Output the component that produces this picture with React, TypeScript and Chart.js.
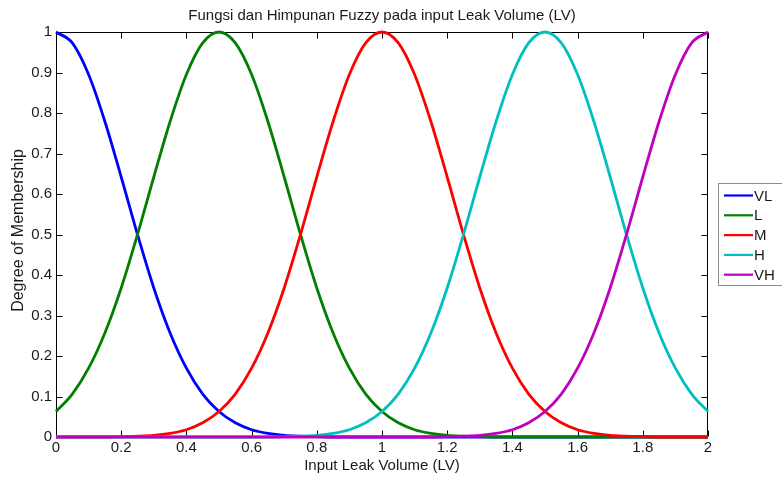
import React, { useEffect, useRef } from "react";
import { Chart, registerables } from "chart.js";

Chart.register(...registerables);

// Input universe sampled every 0.05 on [0, 2]
const xValues = [
  0, 0.05, 0.1, 0.15, 0.2, 0.25, 0.3, 0.35, 0.4, 0.45,
  0.5, 0.55, 0.6, 0.65, 0.7, 0.75, 0.8, 0.85, 0.9, 0.95,
  1, 1.05, 1.1, 1.15, 1.2, 1.25, 1.3, 1.35, 1.4, 1.45,
  1.5, 1.55, 1.6, 1.65, 1.7, 1.75, 1.8, 1.85, 1.9, 1.95, 2,
];

const vlValues = [
  1, 0.973, 0.895, 0.779, 0.642, 0.5, 0.368, 0.257, 0.17, 0.106,
  0.063, 0.035, 0.018, 0.009, 0.004, 0.002, 0.001, 0, 0, 0,
  0, 0, 0, 0, 0, 0, 0, 0, 0, 0,
  0, 0, 0, 0, 0, 0, 0, 0, 0, 0, 0,
];

const lValues = [
  0.063, 0.106, 0.17, 0.257, 0.368, 0.5, 0.642, 0.779, 0.895, 0.973,
  1, 0.973, 0.895, 0.779, 0.642, 0.5, 0.368, 0.257, 0.17, 0.106,
  0.063, 0.035, 0.018, 0.009, 0.004, 0.002, 0.001, 0, 0, 0,
  0, 0, 0, 0, 0, 0, 0, 0, 0, 0, 0,
];

const mValues = [
  0, 0, 0, 0, 0.001, 0.002, 0.004, 0.009, 0.018, 0.035,
  0.063, 0.106, 0.17, 0.257, 0.368, 0.5, 0.642, 0.779, 0.895, 0.973,
  1, 0.973, 0.895, 0.779, 0.642, 0.5, 0.368, 0.257, 0.17, 0.106,
  0.063, 0.035, 0.018, 0.009, 0.004, 0.002, 0.001, 0, 0, 0, 0,
];

const hValues = [
  0, 0, 0, 0, 0, 0, 0, 0, 0, 0,
  0, 0, 0, 0, 0.001, 0.002, 0.004, 0.009, 0.018, 0.035,
  0.063, 0.106, 0.17, 0.257, 0.368, 0.5, 0.642, 0.779, 0.895, 0.973,
  1, 0.973, 0.895, 0.779, 0.642, 0.5, 0.368, 0.257, 0.17, 0.106, 0.063,
];

const vhValues = [
  0, 0, 0, 0, 0, 0, 0, 0, 0, 0,
  0, 0, 0, 0, 0, 0, 0, 0, 0, 0,
  0, 0, 0, 0, 0.001, 0.002, 0.004, 0.009, 0.018, 0.035,
  0.063, 0.106, 0.17, 0.257, 0.368, 0.5, 0.642, 0.779, 0.895, 0.973, 1,
];

const seriesNames = ["VL", "L", "M", "H", "VH"];
const seriesColors = ["#0000ff", "#007f00", "#ff0000", "#00bfbf", "#bf00bf"];
const seriesValues = [vlValues, lValues, mValues, hValues, vhValues];

const xTicks = [0, 0.2, 0.4, 0.6, 0.8, 1, 1.2, 1.4, 1.6, 1.8, 2];
const yTicks = [0, 0.1, 0.2, 0.3, 0.4, 0.5, 0.6, 0.7, 0.8, 0.9, 1];

const chartTitle = "Fungsi dan Himpunan Fuzzy pada input Leak Volume (LV)";
const xTitle = "Input Leak Volume (LV)";
const yTitle = "Degree of Membership";

const FONT = "'Liberation Sans', Arial, sans-serif";
const TEXT = "#1a1a1a";

const fmt = (v: number) => String(Number(v.toFixed(1)));

// Box around the axes with inward tick marks, drawn under the curves
const framePlugin = {
  id: "frame",
  beforeDatasetsDraw(chart: any) {
    const { ctx, chartArea: a, scales } = chart;
    const l = Math.round(a.left) + 0.5;
    const r = Math.round(a.right) - 0.5;
    const t = Math.round(a.top) + 0.5;
    const b = Math.round(a.bottom) - 0.5;
    ctx.save();
    ctx.strokeStyle = "#000";
    ctx.lineWidth = 1;
    ctx.strokeRect(l, t, r - l, b - t);
    const tl = 6;
    ctx.beginPath();
    for (const v of xTicks) {
      const px = Math.round(scales.x.getPixelForValue(v)) + 0.5;
      ctx.moveTo(px, b);
      ctx.lineTo(px, b - tl);
      ctx.moveTo(px, t);
      ctx.lineTo(px, t + tl);
    }
    for (const v of yTicks) {
      const py = Math.round(scales.y.getPixelForValue(v)) + 0.5;
      ctx.moveTo(l, py);
      ctx.lineTo(l + tl, py);
      ctx.moveTo(r, py);
      ctx.lineTo(r - tl, py);
    }
    ctx.stroke();
    ctx.restore();
  },
  afterDraw(chart: any) {
    const { ctx, chartArea: a } = chart;
    const cx = (a.left + a.right) / 2;
    const cy = (a.top + a.bottom) / 2;
    ctx.save();
    ctx.fillStyle = TEXT;
    ctx.font = `15px ${FONT}`;
    ctx.textAlign = "center";
    ctx.textBaseline = "middle";
    ctx.fillText(chartTitle, cx, 16);
    ctx.fillText(xTitle, cx, 466);
    ctx.save();
    ctx.translate(19, cy - 4);
    ctx.rotate(-Math.PI / 2);
    ctx.font = `16px ${FONT}`;
    ctx.fillText(yTitle, 0, 0);
    ctx.restore();

    // legend
    const bx = 718.5;
    const by = 183.5;
    const bw = 70;
    const bh = 102;
    ctx.fillStyle = "#fff";
    ctx.fillRect(bx, by, bw, bh);
    ctx.strokeStyle = "#8c8c8c";
    ctx.lineWidth = 1;
    ctx.strokeRect(bx, by, bw, bh);
    ctx.font = `15px ${FONT}`;
    ctx.textAlign = "left";
    seriesNames.forEach((name, i) => {
      const y = 195.5 + i * 19.8;
      ctx.strokeStyle = seriesColors[i];
      ctx.lineWidth = 2.2;
      ctx.beginPath();
      ctx.moveTo(724, y);
      ctx.lineTo(753, y);
      ctx.stroke();
      ctx.fillStyle = TEXT;
      ctx.fillText(name, 754, y + 1);
    });
    ctx.restore();
  },
};

export default function App() {
  const canvasRef = useRef<HTMLCanvasElement | null>(null);

  useEffect(() => {
    document.body.style.margin = "0";
    const canvas = canvasRef.current;
    if (!canvas) return;
    const chart = new Chart(canvas, {
      type: "line",
      data: {
        datasets: seriesNames.map((name, i) => ({
          label: name,
          data: xValues.map((x, k) => ({ x, y: seriesValues[i][k] })),
          borderColor: seriesColors[i],
          backgroundColor: seriesColors[i],
          borderWidth: 2.8,
          pointRadius: 0,
          cubicInterpolationMode: "monotone" as const,
          clip: 4,
          order: seriesNames.length - i,
        })),
      },
      options: {
        animation: false,
        responsive: true,
        maintainAspectRatio: false,
        layout: { padding: { top: 32, right: 74, bottom: 0, left: 0 } },
        plugins: {
          legend: { display: false },
          title: { display: false },
          tooltip: { enabled: false },
        },
        scales: {
          x: {
            type: "linear",
            min: 0,
            max: 2,
            grid: { display: false, drawTicks: false, tickLength: 0 },
            border: { display: false },
            afterBuildTicks: (s: any) => {
              s.ticks = xTicks.map((v) => ({ value: v }));
            },
            afterFit: (s: any) => {
              s.height = 43;
            },
            ticks: {
              padding: 2,
              maxRotation: 0,
              color: TEXT,
              font: { family: FONT, size: 15 },
              callback: (v: any) => fmt(Number(v)),
            },
          },
          y: {
            type: "linear",
            min: 0,
            max: 1,
            grid: { display: false, drawTicks: false, tickLength: 0 },
            border: { display: false },
            afterBuildTicks: (s: any) => {
              s.ticks = yTicks.map((v) => ({ value: v }));
            },
            afterFit: (s: any) => {
              s.width = 56;
            },
            ticks: {
              padding: 4,
              color: TEXT,
              font: { family: FONT, size: 15 },
              callback: (v: any) => fmt(Number(v)),
            },
          },
        },
      },
      plugins: [framePlugin],
    });
    return () => chart.destroy();
  }, []);

  return (
    <div style={{ position: "relative", width: 782, height: 480 }}>
      <canvas ref={canvasRef} />
    </div>
  );
}
